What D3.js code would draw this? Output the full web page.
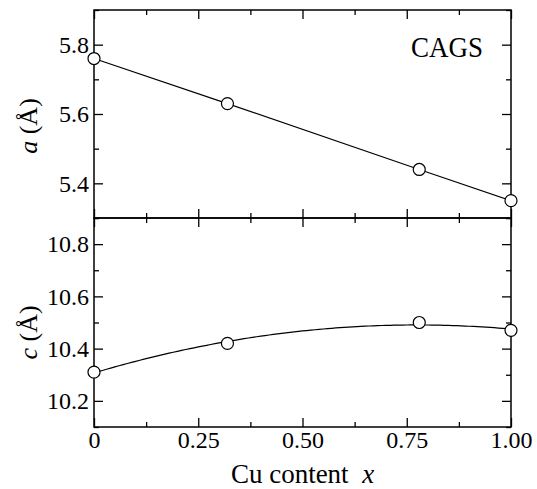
<!DOCTYPE html>
<html>
<head>
<meta charset="utf-8">
<script src="https://cdn.jsdelivr.net/npm/d3@7"></script>
<style>
  html, body { margin: 0; padding: 0; background: #fff; }
  svg { display: block; }
  svg text { font-family: "Liberation Serif", "Times New Roman", Tinos, "DejaVu Serif", serif !important; fill: #000; }
</style>
</head>
<body>
<svg id="chart" width="537" height="489" font-family="Liberation Serif, Times New Roman, serif"></svg>
<script>
// Cu content x and lattice parameters of CAGS
const cuContent = [0, 0.32, 0.78, 1.0];
const latticeA = [5.76, 5.63, 5.44, 5.35];
const latticeC = [10.31, 10.42, 10.50, 10.47];

const xTicks = [0, 0.25, 0.5, 0.75, 1.0];
const xTickLabels = ["0", "0.25", "0.50", "0.75", "1.00"];
const xMinorTicks = [0.125, 0.375, 0.625, 0.875];
const aTicks = [5.4, 5.6, 5.8];
const aMinorTicks = [5.3, 5.5, 5.7, 5.9];
const cTicks = [10.2, 10.4, 10.6, 10.8];
const cMinorTicks = [10.1, 10.3, 10.5, 10.7, 10.9];

const SERIF = "'Liberation Serif', 'Times New Roman', serif";
const svg = d3.select("#chart");
const left = 94, right = 511, top1 = 10, mid = 218, bottom = 427;
const MAJOR = 9, MINOR = 5;

const x = d3.scaleLinear().domain([0, 1]).range([left, right]);
const yA = d3.scaleLinear().domain([5.3, 5.9]).range([mid, top1]);
const yC = d3.scaleLinear().domain([10.1, 10.9]).range([bottom, mid]);

function styleAxis(g) {
  g.attr("font-family", SERIF).attr("font-size", 24);
  g.select(".domain").remove();
  g.selectAll(".tick line").attr("stroke", "#000").attr("stroke-width", 1.3);
  g.selectAll(".tick text").attr("fill", "#000");
}

function panel(y, ticks, minor, yTop, yBot, labelX) {
  // y axes, ticks pointing inward on both sides
  svg.append("g").attr("transform", `translate(${left},0)`)
    .call(d3.axisLeft(y).tickValues(ticks).tickFormat(d3.format(".1f"))
      .tickSizeInner(-MAJOR).tickSizeOuter(0).tickPadding(5))
    .call(styleAxis);
  svg.append("g").attr("transform", `translate(${left},0)`)
    .call(d3.axisLeft(y).tickValues(minor).tickFormat("").tickSizeInner(-MINOR).tickSizeOuter(0))
    .call(styleAxis);
  svg.append("g").attr("transform", `translate(${right},0)`)
    .call(d3.axisRight(y).tickValues(ticks).tickFormat("").tickSizeInner(-MAJOR).tickSizeOuter(0))
    .call(styleAxis);
  svg.append("g").attr("transform", `translate(${right},0)`)
    .call(d3.axisRight(y).tickValues(minor).tickFormat("").tickSizeInner(-MINOR).tickSizeOuter(0))
    .call(styleAxis);
  // x ticks on top and bottom edges
  svg.append("g").attr("transform", `translate(0,${yTop})`)
    .call(d3.axisTop(x).tickValues(xTicks).tickFormat("").tickSizeInner(-MAJOR).tickSizeOuter(0))
    .call(styleAxis);
  svg.append("g").attr("transform", `translate(0,${yTop})`)
    .call(d3.axisTop(x).tickValues(xMinorTicks).tickFormat("").tickSizeInner(-MINOR).tickSizeOuter(0))
    .call(styleAxis);
  svg.append("g").attr("transform", `translate(0,${yBot})`)
    .call(d3.axisBottom(x).tickValues(xTicks)
      .tickFormat((d, i) => labelX ? xTickLabels[i] : "")
      .tickSizeInner(-MAJOR).tickSizeOuter(0).tickPadding(4))
    .call(styleAxis);
  svg.append("g").attr("transform", `translate(0,${yBot})`)
    .call(d3.axisBottom(x).tickValues(xMinorTicks).tickFormat("").tickSizeInner(-MINOR).tickSizeOuter(0))
    .call(styleAxis);
  // frame
  svg.append("rect").attr("x", left).attr("y", yTop)
    .attr("width", right - left).attr("height", yBot - yTop)
    .attr("fill", "none").attr("stroke", "#000").attr("stroke-width", 1.5);
}

panel(yA, aTicks, aMinorTicks, top1, mid, false);
panel(yC, cTicks, cMinorTicks, mid, bottom, true);

// a(x): straight line through the points
const ptsA = cuContent.map((d, i) => [d, latticeA[i]]);
svg.append("path")
  .attr("d", d3.line().x(d => x(d[0])).y(d => yA(d[1]))(ptsA))
  .attr("fill", "none").attr("stroke", "#000").attr("stroke-width", 1.2);

// c(x): quadratic least-squares fit of the points
function quadFit(xs, ys) {
  const S = k => d3.sum(xs, v => Math.pow(v, k));
  const T = k => d3.sum(xs, (v, i) => Math.pow(v, k) * ys[i]);
  const M = [[S(0), S(1), S(2), T(0)], [S(1), S(2), S(3), T(1)], [S(2), S(3), S(4), T(2)]];
  for (let i = 0; i < 3; i++) {
    for (let j = i + 1; j < 3; j++) {
      const f = M[j][i] / M[i][i];
      for (let k = i; k < 4; k++) M[j][k] -= f * M[i][k];
    }
  }
  const p = [0, 0, 0];
  for (let i = 2; i >= 0; i--) {
    let s = M[i][3];
    for (let k = i + 1; k < 3; k++) s -= M[i][k] * p[k];
    p[i] = s / M[i][i];
  }
  return p;
}
const pc = quadFit(cuContent, latticeC);
const fitC = d3.range(0, 1.0001, 0.01).map(v => [v, pc[0] + pc[1] * v + pc[2] * v * v]);
svg.append("path")
  .attr("d", d3.line().x(d => x(d[0])).y(d => yC(d[1]))(fitC))
  .attr("fill", "none").attr("stroke", "#000").attr("stroke-width", 1.2);

// markers
svg.append("g").selectAll("circle").data(ptsA).join("circle")
  .attr("cx", d => x(d[0])).attr("cy", d => yA(d[1])).attr("r", 6)
  .attr("fill", "#fff").attr("stroke", "#000").attr("stroke-width", 1.2);
svg.append("g").selectAll("circle").data(cuContent.map((d, i) => [d, latticeC[i]])).join("circle")
  .attr("cx", d => x(d[0])).attr("cy", d => yC(d[1])).attr("r", 6)
  .attr("fill", "#fff").attr("stroke", "#000").attr("stroke-width", 1.2);

// labels
svg.append("text").attr("x", 447).attr("y", 57).attr("text-anchor", "middle")
  .attr("font-family", SERIF).attr("font-size", 30)
  .attr("textLength", 72).attr("lengthAdjust", "spacingAndGlyphs")
  .text("CAGS");

const ya = svg.append("text").attr("transform", `translate(37,${(mid + top1) / 2 + 12}) rotate(-90)`)
  .attr("text-anchor", "middle").attr("font-family", SERIF).attr("font-size", 26);
ya.append("tspan").attr("font-style", "italic").text("a");
ya.append("tspan").text(" (Å)");

const yc = svg.append("text").attr("transform", `translate(37,${(mid + bottom) / 2 + 10}) rotate(-90)`)
  .attr("text-anchor", "middle").attr("font-family", SERIF).attr("font-size", 26);
yc.append("tspan").attr("font-style", "italic").text("c");
yc.append("tspan").text(" (Å)");

const xt = svg.append("text").attr("x", (left + right) / 2).attr("y", 483)
  .attr("text-anchor", "middle").attr("font-family", SERIF).attr("font-size", 27);
xt.append("tspan").text("Cu content\u00a0\u00a0");
xt.append("tspan").attr("font-style", "italic").text("x");
</script>
</body>
</html>
